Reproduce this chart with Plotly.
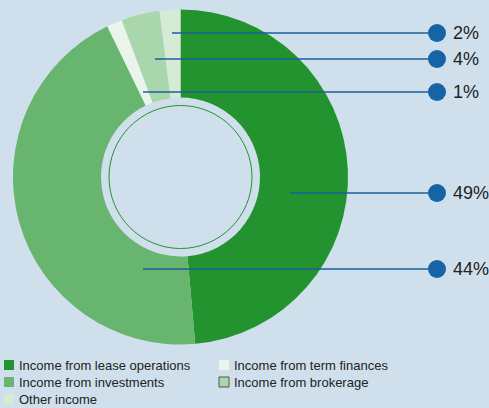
import plotly.graph_objects as go

# ---- data ----
categories = ["Income from lease operations", "Income from investments",
              "Income from term finances", "Income from brokerage", "Other income"]
values = [48.6, 44.2, 1.5, 3.7, 2.0]
pct_labels = ["49%", "44%", "1%", "4%", "2%"]
colors = ["#23932f", "#67b56e", "#e9f4ea", "#a9d6aa", "#d5ebd6"]
legend_order = [0, 2, 1, 3, 4]  # two-column legend, row by row

# ---- layout constants (pixels) ----
W, H = 489, 408
BG = "#cfe0ec"
CX, CY, R_OUT, R_IN = 180.5, 177, 167.5, 79.5
RING_R = 71.5
DOT_X, DOT_R = 437, 9
TEXT_X = 451
# callout geometry per slice: (label y, line start x)
callout = {0: (193, 290), 1: (269, 143), 2: (92, 143), 3: (59, 155), 4: (33, 172)}
LINE_COL = "#1a5f9c"
DOT_COL = "#1663a6"
FONT = "Liberation Sans, Arial"

fig = go.Figure()

fig.add_trace(go.Pie(
    labels=categories, values=values, sort=False, direction="clockwise",
    rotation=0, hole=R_IN / R_OUT, textinfo="none", hoverinfo="label+percent",
    marker=dict(colors=colors, line=dict(width=0)), showlegend=False,
    domain=dict(x=[(CX - R_OUT) / W, (CX + R_OUT) / W],
                y=[(H - CY - R_OUT) / H, (H - CY + R_OUT) / H]),
))

shapes = []
annotations = []
# inner ring
shapes.append(dict(type="circle", xref="x", yref="y", x0=CX - RING_R, x1=CX + RING_R,
                   y0=CY - RING_R, y1=CY + RING_R, line=dict(color="#23932f", width=1),
                   layer="above"))
for i, lab in enumerate(pct_labels):
    ly, lx = callout[i]
    shapes.append(dict(type="line", xref="x", yref="y", x0=lx, x1=DOT_X, y0=ly, y1=ly,
                       line=dict(color=LINE_COL, width=1.5), layer="above"))
    shapes.append(dict(type="circle", xref="x", yref="y", x0=DOT_X - DOT_R, x1=DOT_X + DOT_R,
                       y0=ly - DOT_R, y1=ly + DOT_R, fillcolor=DOT_COL,
                       line=dict(width=0), layer="above"))
    annotations.append(dict(x=TEXT_X, y=ly, xref="x", yref="y", text=lab, showarrow=False,
                            xanchor="left", yanchor="middle",
                            font=dict(family=FONT, size=18, color="#222")))

# manual legend
for k, idx in enumerate(legend_order):
    col, row = k % 2, k // 2
    sx = 4 + col * 215
    sy = 365 + row * 17
    border = dict(color="#555", width=1) if idx == 3 else dict(width=0)
    shapes.append(dict(type="rect", xref="x", yref="y", x0=sx, x1=sx + 10, y0=sy - 5, y1=sy + 5,
                       fillcolor=colors[idx], line=border, layer="above"))
    annotations.append(dict(x=sx + 12.5, y=sy, xref="x", yref="y", text=categories[idx],
                            showarrow=False, xanchor="left", yanchor="middle",
                            font=dict(family=FONT, size=13, color="#222")))

fig.update_layout(
    width=W, height=H, margin=dict(l=0, r=0, t=0, b=0),
    paper_bgcolor=BG, plot_bgcolor=BG,
    xaxis=dict(range=[0, W], visible=False, fixedrange=True, domain=[0, 1]),
    yaxis=dict(range=[H, 0], visible=False, fixedrange=True, domain=[0, 1]),
    shapes=shapes, annotations=annotations, showlegend=False,
)

fig.write_html("out.html")
